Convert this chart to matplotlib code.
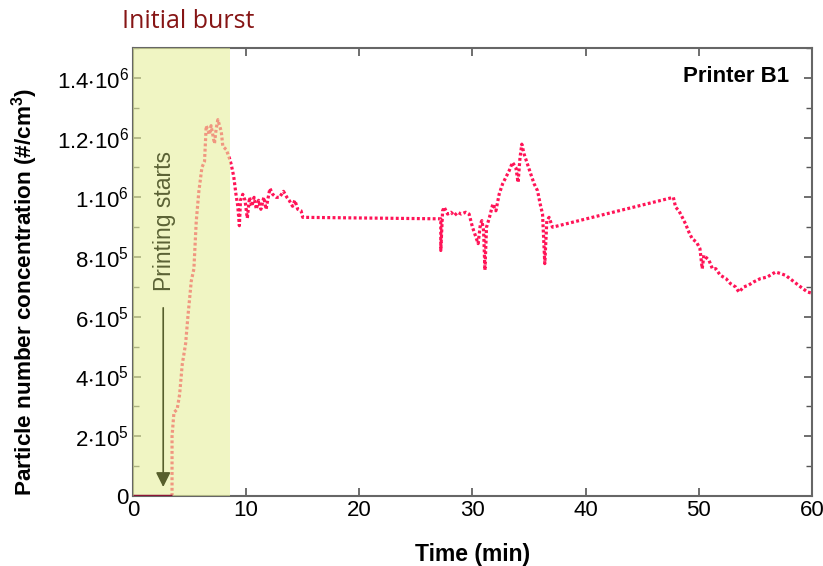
import matplotlib
matplotlib.use("Agg")
import matplotlib.pyplot as plt
from matplotlib.ticker import MultipleLocator

# baseline before printing (min)
base_t = [0.0, 3.45]
base_v = [0.0, 0.0]

# particle number concentration (min, #/cm3)
time_min = [3.45, 3.45, 3.62, 3.9, 4.12, 4.35, 4.65, 4.85, 5.15, 5.38, 5.59, 5.82,
            6.09, 6.32, 6.47, 6.76, 6.9, 7.2, 7.35, 7.5, 7.8, 7.94, 8.24, 8.53,
            8.68, 8.9, 9.1, 9.26, 9.4, 9.5, 9.7, 9.9, 10.1, 10.3, 10.5, 10.7,
            10.9, 11.1, 11.3, 11.56, 11.76, 11.9, 12.1, 12.35, 12.65, 12.94, 13.3,
            13.6, 13.8, 14.1, 14.3, 14.56, 14.85, 15.0,
            27.2, 27.2, 27.36, 27.5, 27.8, 28.1, 28.4, 28.7, 29.0, 29.4, 29.7,
            30.0, 30.3, 30.5, 30.7, 30.83, 30.98, 31.1, 31.24, 31.5, 31.8, 32.07,
            32.36, 32.66, 32.95, 33.24, 33.54, 33.83, 34.03, 34.2, 34.36, 34.56,
            34.86, 35.15, 35.45, 35.75, 35.98, 36.19, 36.39, 36.57, 36.77, 37.07,
            47.75, 47.95, 48.24, 48.54, 48.83, 49.13, 49.42, 49.8, 50.1, 50.3,
            50.45, 50.9, 51.2, 51.5, 51.9, 52.4, 52.8, 53.25, 53.54, 53.98, 54.4,
            54.86, 55.45, 56.04, 56.78, 57.2, 57.66, 58.25, 59.0, 59.6, 60.0]
conc = [0.0, 0.2e6, 0.28e6, 0.29e6, 0.34e6, 0.44e6, 0.51e6, 0.6e6, 0.72e6, 0.76e6,
        0.92e6, 1.02e6, 1.1e6, 1.12e6, 1.24e6, 1.21e6, 1.24e6, 1.18e6, 1.23e6,
        1.26e6, 1.22e6, 1.17e6, 1.16e6, 1.13e6, 1.11e6, 1.07e6, 1.01e6, 0.97e6,
        0.905e6, 0.99e6, 1.01e6, 0.99e6, 0.93e6, 1.0e6, 0.97e6, 1.0e6, 0.96e6,
        0.99e6, 0.96e6, 1.0e6, 0.96e6, 0.99e6, 1.03e6, 1.01e6, 1.0e6, 1.0e6,
        1.02e6, 1.0e6, 0.99e6, 0.97e6, 0.99e6, 0.96e6, 0.955e6, 0.933e6,
        0.928e6, 0.822e6, 0.955e6, 0.967e6, 0.944e6, 0.95e6, 0.939e6, 0.95e6,
        0.944e6, 0.95e6, 0.944e6, 0.9e6, 0.867e6, 0.845e6, 0.911e6, 0.922e6,
        0.889e6, 0.756e6, 0.9e6, 0.933e6, 0.978e6, 0.955e6, 1.011e6, 1.045e6,
        1.067e6, 1.089e6, 1.117e6, 1.1e6, 1.05e6, 1.133e6, 1.178e6, 1.145e6,
        1.111e6, 1.078e6, 1.045e6, 1.022e6, 0.978e6, 0.944e6, 0.778e6, 0.922e6,
        0.933e6, 0.9e6,
        1.0e6, 0.967e6, 0.955e6, 0.933e6, 0.911e6, 0.883e6, 0.861e6, 0.85e6,
        0.828e6, 0.761e6, 0.806e6, 0.789e6, 0.761e6, 0.761e6, 0.739e6, 0.728e6,
        0.711e6, 0.7e6, 0.683e6, 0.7e6, 0.706e6, 0.717e6, 0.728e6, 0.733e6,
        0.75e6, 0.745e6, 0.739e6, 0.722e6, 0.7e6, 0.683e6, 0.679e6]

y_ticks = [0, 2e5, 4e5, 6e5, 8e5, 1e6, 1.2e6, 1.4e6]
y_labels = ['0', r'$\mathregular{2{\cdot}10^5}$', r'$\mathregular{4{\cdot}10^5}$',
            r'$\mathregular{6{\cdot}10^5}$', r'$\mathregular{8{\cdot}10^5}$',
            r'$\mathregular{1{\cdot}10^6}$', r'$\mathregular{1.2{\cdot}10^6}$',
            r'$\mathregular{1.4{\cdot}10^6}$']

burst_end = 8.6

plt.rcParams['font.family'] = ['Liberation Sans', 'DejaVu Sans']
fig = plt.figure(figsize=(8.23, 5.66), dpi=100)
ax = fig.add_axes([0.1616, 0.1237, 0.825, 0.7915])

ax.plot(time_min, conc, linestyle=(0, (0.9, 0.75)), color='#ff1457', lw=2.3,
        zorder=2)
ax.plot(base_t, base_v, color='#8c1538', lw=2.5, zorder=4, solid_capstyle='butt')
# initial burst shading
ax.axvspan(0, burst_end, color='#e6ef9c', alpha=0.6, lw=0, zorder=3)

ax.annotate('', xy=(2.67, 0.03e6), xytext=(2.67, 0.63e6),
            arrowprops=dict(arrowstyle='-|>', color='#575f2c', lw=1.2,
                            mutation_scale=22, shrinkA=0, shrinkB=0), zorder=5)
ax.text(2.75, 0.92e6, 'Printing starts', rotation=90, color='#5b6235',
        fontsize=16.5, ha='center', va='center', zorder=5)
ax.text(0.966, 0.96, 'Printer B1', transform=ax.transAxes, fontsize=16,
        fontweight='bold', ha='right', va='top')
fig.text(122 / 823, 1 - 22 / 566, 'Initial burst', color='#861515',
         fontsize=18, family='Open Sans', ha='left', va='center')

ax.set_xlim(0, 60)
ax.set_ylim(0, 1.5e6)
ax.xaxis.set_major_locator(MultipleLocator(10))
ax.set_yticks(y_ticks)
ax.set_yticklabels(y_labels)
ax.yaxis.set_minor_locator(MultipleLocator(1e5))
ax.tick_params(which='both', direction='in', top=True, right=True,
               color='#555555', labelsize=16)
ax.tick_params(which='major', length=6, width=1.2, pad=3)
ax.tick_params(which='minor', length=4, width=1.0)
for sp in ax.spines.values():
    sp.set_color('#666666')
    sp.set_linewidth(1.5)

ax.set_xlabel('Time (min)', fontsize=16.5, fontweight='bold', labelpad=16)
ax.set_ylabel(r'Particle number concentration (#/cm$\mathregular{^3}$)',
              fontsize=16.2, fontweight='bold')
ax.yaxis.set_label_coords(-0.137, 0.455)

fig.savefig('out.png', dpi=100)
